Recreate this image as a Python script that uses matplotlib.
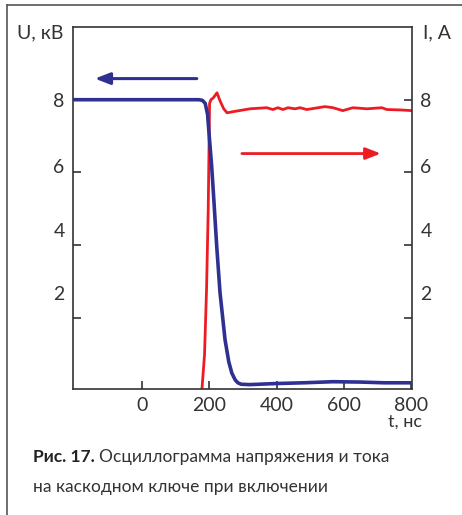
import matplotlib
matplotlib.use("Agg")
import matplotlib.pyplot as plt
from matplotlib.lines import Line2D

plt.rcParams['font.family'] = ['Lato', 'DejaVu Sans']

# напряжение, кВ (синяя кривая)
t_u = [-205, -100, 0, 100, 170, 180, 188, 195, 200, 207, 214, 222, 232, 247, 258, 267,
       277, 285, 295, 320, 400, 480, 568, 650, 720, 803]
u = [8.0, 8.0, 8.0, 8.0, 8.0, 7.98, 7.9, 7.6, 7.0, 6.2, 5.2, 4.0, 2.7, 1.4, 0.8, 0.49,
     0.3, 0.22, 0.18, 0.17, 0.2, 0.22, 0.25, 0.24, 0.22, 0.22]

# ток, А (красная кривая)
t_i = [178, 186, 192, 197, 201, 205, 212, 223, 232, 243, 253, 270, 321, 371, 389, 404,
       419, 434, 455, 470, 490, 544, 568, 597, 627, 669, 713, 728, 765, 803]
i = [0.0, 1.0, 2.8, 5.0, 7.9, 8.0, 8.05, 8.19, 7.97, 7.75, 7.64, 7.67, 7.75, 7.78, 7.73, 7.78,
     7.73, 7.78, 7.75, 7.78, 7.73, 7.81, 7.78, 7.70, 7.78, 7.75, 7.78, 7.73, 7.72, 7.70]

x_ticks = [0, 200, 400, 600, 800]
y_ticks = [2, 4, 6, 8]
y_label_pos = [2.68, 4.41, 6.19, 8.0]
y_labels = ['2', '4', '6', '8']

blue = '#2e3192'
red = '#ed1c24'
dark = '#333333'

fig = plt.figure(figsize=(4.62, 5.15), dpi=100)
ax = fig.add_axes([0.158, 0.2447, 0.734, 0.703])

ax.plot(t_u, u, color=blue, lw=2.6, solid_joinstyle='round', zorder=3)
ax.plot(t_i, i, color=red, lw=2.0, solid_joinstyle='round', zorder=2)

ax.set_xlim(-205, 803)
ax.set_ylim(0.05, 10.0)

for s in ax.spines.values():
    s.set_color(dark)
    s.set_linewidth(1.2)

ax.set_xticks(x_ticks)
ax.set_xticklabels([str(v) for v in x_ticks])
ax.tick_params(axis='x', direction='in', length=6, width=1.2, color=dark,
               labelsize=14, labelcolor=dark, pad=6)

ax.yaxis.remove_overlapping_locs = False
ax.set_yticks(y_ticks)
ax.set_yticklabels([])
ax.set_yticks(y_label_pos, minor=True)
ax.set_yticklabels(y_labels, minor=True)
ax.tick_params(axis='y', which='major', direction='in', length=6, width=1.2, color=dark,
               left=True, right=True)
ax.tick_params(axis='y', which='minor', length=0, labelsize=14, labelcolor=dark,
               left=True, right=True, labelleft=True, labelright=True, pad=6)

# стрелки
ax.annotate('', xy=(-140, 8.58), xytext=(163, 8.58),
            arrowprops=dict(arrowstyle='-|>,head_length=0.9,head_width=0.35',
                            color=blue, lw=2.2, shrinkA=0, shrinkB=0))
ax.annotate('', xy=(710, 6.52), xytext=(297, 6.52),
            arrowprops=dict(arrowstyle='-|>,head_length=0.9,head_width=0.35',
                            color=red, lw=2.0, shrinkA=0, shrinkB=0))

fig.text(63 / 462, 1 - 33 / 515, 'U, кВ', ha='right', va='center', fontsize=14, color=dark)
fig.text(423 / 462, 1 - 33 / 515, 'I, A', ha='left', va='center', fontsize=14, color=dark)
fig.text(405 / 462, 1 - 422 / 515, 't, нс', ha='center', va='center', fontsize=13, color=dark)

# подпись
r = fig.canvas.get_renderer()
bold = fig.text(33 / 462, 1 - 462 / 515, 'Рис. 17.', fontsize=12.5, fontweight='bold',
                color='#222222', va='baseline')
bb = bold.get_window_extent(renderer=r)
fig.text((bb.x1 + 4) / fig.bbox.width, 1 - 462 / 515, 'Осциллограмма напряжения и тока',
         fontsize=12.5, color=dark, va='baseline')
fig.text(33 / 462, 1 - 492 / 515, 'на каскодном ключе при включении',
         fontsize=12.5, color=dark, va='baseline')

# рамка
fig.add_artist(Line2D([7 / 462, 1], [1 - 5 / 515, 1 - 5 / 515], color='#555555', lw=1.2))
fig.add_artist(Line2D([7 / 462, 7 / 462], [0, 1 - 5 / 515], color='#555555', lw=1.2))

fig.savefig('out.png', dpi=100)
